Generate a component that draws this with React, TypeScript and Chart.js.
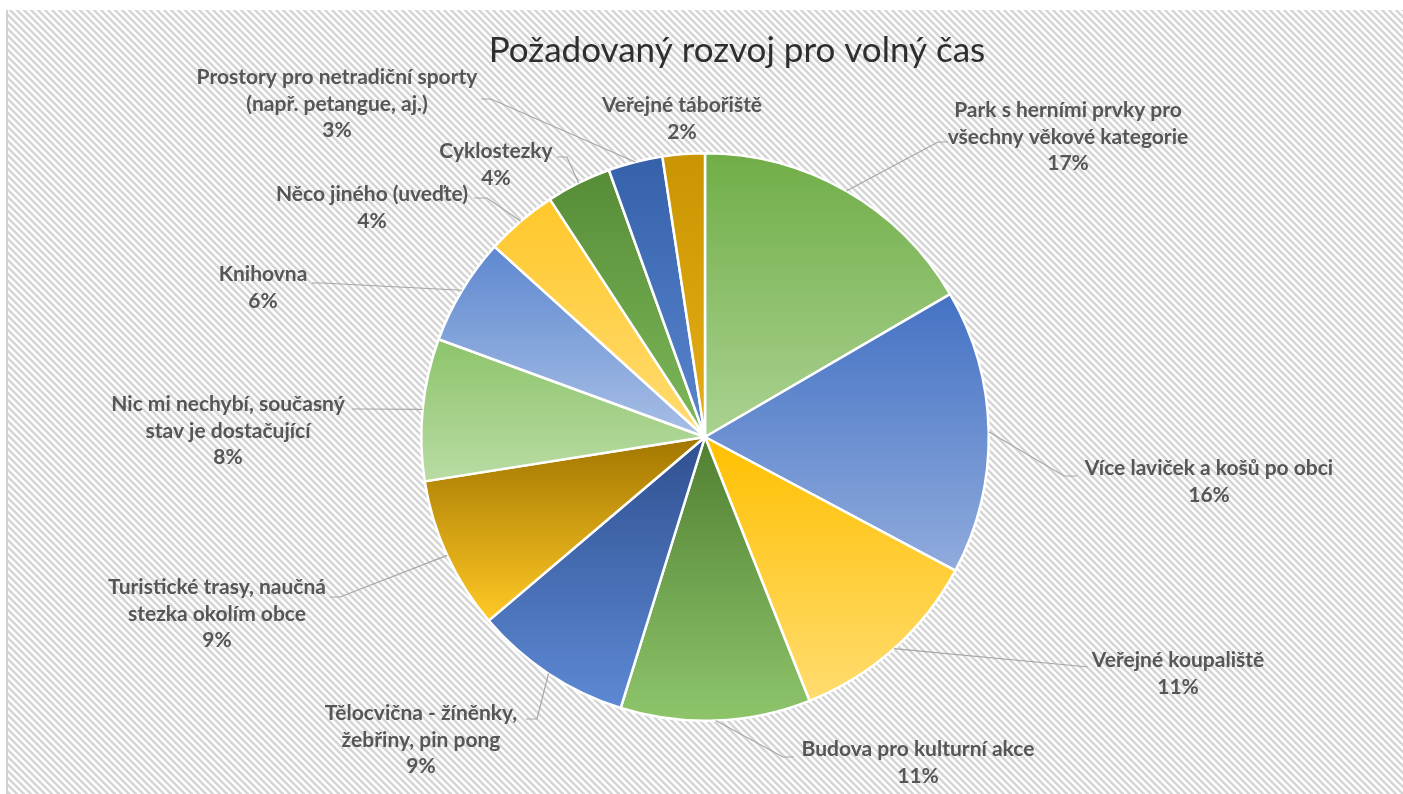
import React, { useEffect, useRef } from "react";
import { Chart, ArcElement, PieController } from "chart.js";

Chart.register(ArcElement, PieController);

const TITLE = "Požadovaný rozvoj pro volný čas";

const categories: string[][] = [
  ["Park s herními prvky pro", "všechny věkové kategorie"],
  ["Více laviček a košů po obci"],
  ["Veřejné koupaliště"],
  ["Budova pro kulturní akce"],
  ["Tělocvična - žíněnky,", "žebřiny, pin pong"],
  ["Turistické trasy, naučná", "stezka okolím obce"],
  ["Nic mi nechybí, současný", "stav je dostačující"],
  ["Knihovna"],
  ["Něco jiného (uveďte)"],
  ["Cyklostezky"],
  ["Prostory pro netradiční sporty", "(např. petangue, aj.)"],
  ["Veřejné tábořiště"],
];

// share of responses (%)
const shares: number[] = [16.6, 16.2, 11.2, 10.8, 9.0, 8.7, 8.1, 6.1, 4.1, 3.7, 3.1, 2.4];

const gradTop: string[] = [
  "#70AD47", "#4472C4", "#FFC000", "#507F31", "#2F5090", "#A27600",
  "#8DC46B", "#5E88D0", "#FFC72A", "#578C37", "#3560AA", "#C99500",
];
const gradBottom: string[] = [
  "#AAD291", "#90ABDD", "#FFDC70", "#8EC56B", "#5D89D4", "#FFC925",
  "#B9DCA4", "#A8BFE6", "#FFDC72", "#7DB85A", "#5A86D0", "#E6AE18",
];

// label block placement (text centre x, first line centre y) and leader-line end / elbow
const labelLayout: { x: number; y: number; end: number[] | null; elbow: number[] | null }[] = [
  { x: 1068, y: 111, end: [948, 142], elbow: [938, 142] },
  { x: 1209, y: 469, end: [1077, 476], elbow: [1064, 476] },
  { x: 1178, y: 661, end: [1088, 667], elbow: [1078, 666] },
  { x: 918, y: 750, end: [794, 757], elbow: [783, 757] },
  { x: 421, y: 714, end: [526, 719], elbow: [537, 719] },
  { x: 217, y: 588, end: [330, 597], elbow: [340, 597] },
  { x: 228, y: 405, end: [352, 409], elbow: [362, 409] },
  { x: 263, y: 275, end: [312, 283], elbow: [322, 283] },
  { x: 372, y: 195, end: [474, 198], elbow: [487, 198] },
  { x: 496, y: 152, end: [557, 157], elbow: [567, 157] },
  { x: 337, y: 78, end: [481, 99], elbow: [491, 99] },
  { x: 682, y: 106, end: null, elbow: null },
];

const LABEL_FONT = "bold 21px Lato";
const LABEL_COLOR = "#565656";
const LINE_H = 26.5;

function sliceGradient(ctx: any) {
  const chart = ctx.chart;
  const area = chart.chartArea;
  const i = ctx.dataIndex;
  if (!area || i === undefined) return gradTop[i ?? 0];
  const data = chart.data.datasets[0].data as number[];
  const tot = data.reduce((a, b) => a + b, 0);
  let before = 0;
  for (let k = 0; k < i; k++) before += data[k];
  const a0 = -Math.PI / 2 + (2 * Math.PI * before) / tot;
  const a1 = a0 + (2 * Math.PI * data[i]) / tot;
  const cy = (area.top + area.bottom) / 2;
  const R = (Math.min(area.width, area.height) - 2) / 2;
  const ys = [cy, cy + R * Math.sin(a0), cy + R * Math.sin(a1)];
  for (const t of [-Math.PI / 2, Math.PI / 2, (3 * Math.PI) / 2]) {
    if (t > a0 && t < a1) ys.push(cy + R * Math.sin(t));
  }
  const g = chart.ctx.createLinearGradient(0, Math.min(...ys), 0, Math.max(...ys));
  g.addColorStop(0, gradTop[i]);
  g.addColorStop(1, gradBottom[i]);
  return g;
}

export default function App() {
  const ref = useRef<HTMLCanvasElement>(null);
  useEffect(() => {
    document.body.style.margin = "0";
    const canvas = ref.current!;
    const total = shares.reduce((a, b) => a + b, 0);

    const bgPlugin = {
      id: "hatchBg",
      beforeDraw(chart: any) {
        const c = chart.ctx as CanvasRenderingContext2D;
        const W = chart.width, H = chart.height;
        c.save();
        c.fillStyle = "#ffffff";
        c.fillRect(0, 0, W, H);
        const tile = document.createElement("canvas");
        const s = 7;
        tile.width = s;
        tile.height = s;
        const t = tile.getContext("2d")!;
        t.fillStyle = "#ffffff";
        t.fillRect(0, 0, s, s);
        t.strokeStyle = "#d5d5d5";
        t.lineWidth = 2.5;
        for (const k of [-1, 0, 1]) {
          t.beginPath();
          t.moveTo(k * s - 1, -1);
          t.lineTo(k * s + s + 1, s + 1);
          t.stroke();
        }
        const pat = c.createPattern(tile, "repeat")!;
        c.fillStyle = pat;
        c.fillRect(8, 10, W - 8, H - 10);
        c.fillStyle = "#d0d0d0";
        c.fillRect(6, 10, 2, H - 10);
        c.restore();
      },
    };

    const labelPlugin = {
      id: "outLabels",
      afterDatasetsDraw(chart: any) {
        const c = chart.ctx as CanvasRenderingContext2D;
        const meta = chart.getDatasetMeta(0);
        c.save();
        // title
        c.fillStyle = "#2e2e2e";
        c.font = "35px Lato";
        c.textAlign = "center";
        c.textBaseline = "alphabetic";
        c.fillText(TITLE, 737, 62);

        meta.data.forEach((arc: any, i: number) => {
          const p = arc.getProps(["x", "y", "startAngle", "endAngle", "outerRadius"], true);
          const mid = (p.startAngle + p.endAngle) / 2;
          const lay = labelLayout[i];
          if (lay.end && lay.elbow) {
            c.strokeStyle = "#a6a6a6";
            c.lineWidth = 1.2;
            c.beginPath();
            c.moveTo(p.x + Math.cos(mid) * p.outerRadius, p.y + Math.sin(mid) * p.outerRadius);
            c.lineTo(lay.elbow[0], lay.elbow[1]);
            c.lineTo(lay.end[0], lay.end[1]);
            c.stroke();
          }
          const lines = [...categories[i], Math.round((shares[i] / total) * 100) + "%"];
          c.fillStyle = LABEL_COLOR;
          c.font = LABEL_FONT;
          c.textAlign = "center";
          c.textBaseline = "alphabetic";
          lines.forEach((ln, j) => {
            c.fillText(ln, lay.x, lay.y + j * LINE_H + 6);
          });
        });
        c.restore();
      },
    };

    const chart = new Chart(canvas, {
      type: "pie",
      data: {
        labels: categories.map((c) => c.join(" ")),
        datasets: [
          {
            data: shares,
            backgroundColor: sliceGradient as any,
            borderColor: "#ffffff",
            borderWidth: 2.5,
          },
        ],
      },
      options: {
        responsive: false,
        animation: false,
        layout: { padding: { top: 152, bottom: 72, left: 420, right: 413 } },
      },
      plugins: [bgPlugin, labelPlugin],
    } as any);
    return () => chart.destroy();
  }, []);
  return <canvas ref={ref} width={1403} height={794} style={{ display: "block", width: 1403, height: 794 }} />;
}
